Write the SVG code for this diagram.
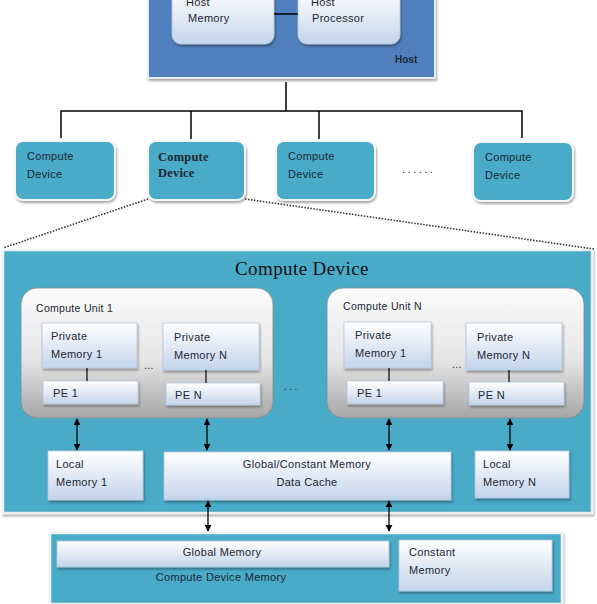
<svg xmlns="http://www.w3.org/2000/svg" width="597" height="604" viewBox="0 0 597 604">
<defs>
  <linearGradient id="gBlueW" x1="0" y1="0" x2="0" y2="1">
    <stop offset="0" stop-color="#ffffff"/>
    <stop offset="1" stop-color="#c3d4ea"/>
  </linearGradient>
  <linearGradient id="gGray" x1="0" y1="0" x2="0" y2="1">
    <stop offset="0" stop-color="#fbfbfb"/>
    <stop offset="0.55" stop-color="#e6e6e6"/>
    <stop offset="1" stop-color="#a6a6a6"/>
  </linearGradient>
  <filter id="sh" x="-10%" y="-10%" width="125%" height="130%">
    <feDropShadow dx="1" dy="2" stdDeviation="1.2" flood-color="#000" flood-opacity="0.35"/>
  </filter>
  <marker id="ah" viewBox="0 0 10 10" refX="9" refY="5" markerWidth="7" markerHeight="7" orient="auto-start-reverse" markerUnits="userSpaceOnUse">
    <path d="M0,0 L10,5 L0,10 z" fill="#000"/>
  </marker>
</defs>
<style>
  text { font-family: "Liberation Sans", Arial, sans-serif; font-size: 11px; fill: #1c2733; letter-spacing: 0.3px; }
  .serif { font-family: "Liberation Serif", "Times New Roman", serif; }
  .teal { fill: #4aabc8; stroke: #f4f8fa; stroke-width: 2; }
  .mem { fill: url(#gBlueW); stroke: #b7c7dc; stroke-width: 0.8; }
  .unit { fill: url(#gGray); stroke: #7f8a90; stroke-width: 0.8; }
  .ln { stroke: #000; stroke-width: 1.5; fill: none; }
  .arr { stroke: #000; stroke-width: 1.3; fill: none; marker-start: url(#ah); marker-end: url(#ah); }
  .dot { stroke: #333; stroke-width: 1.6; stroke-dasharray: 1.5 1.5; fill: none; }
</style>

<g id="host">
  <rect x="148" y="-10" width="287" height="88" fill="#4f80bd" stroke="#e9edf2" stroke-width="2" filter="url(#sh)"/>
  <text x="395" y="63" style="font-size:10px;font-weight:bold;letter-spacing:0">Host</text>
</g>
<g id="host-memory">
  <rect x="172" y="-10" width="102" height="54" rx="9" class="mem" filter="url(#sh)"/>
  <text x="186" y="6">Host</text>
  <text x="188" y="22">Memory</text>
</g>
<g id="host-processor">
  <rect x="298" y="-10" width="102" height="54" rx="9" class="mem" filter="url(#sh)"/>
  <text x="311" y="6">Host</text>
  <text x="312" y="22">Processor</text>
</g>

<g id="device-1">
  <rect x="15" y="141" width="100" height="59" rx="8" class="teal" filter="url(#sh)"/>
  <text x="27" y="160">Compute</text>
  <text x="27" y="178">Device</text>
</g>
<g id="device-2">
  <rect x="148" y="141" width="97" height="59" rx="8" class="teal" filter="url(#sh)"/>
  <text x="158" y="161" class="serif" style="font-size:12.5px;font-weight:bold;letter-spacing:0.2px">Compute</text>
  <text x="158" y="177" class="serif" style="font-size:12.5px;font-weight:bold;letter-spacing:0.2px">Device</text>
</g>
<g id="device-3">
  <rect x="276" y="141" width="99" height="59" rx="8" class="teal" filter="url(#sh)"/>
  <text x="288" y="160">Compute</text>
  <text x="288" y="178">Device</text>
</g>
<g id="device-4">
  <rect x="473" y="142" width="100" height="59" rx="8" class="teal" filter="url(#sh)"/>
  <text x="485" y="161">Compute</text>
  <text x="485" y="179">Device</text>
</g>
<text x="402" y="173" style="letter-spacing:2.5px">......</text>

<g id="compute-device">
  <rect x="3" y="250" width="589" height="263" fill="#4aabc8" stroke="#eef2f4" stroke-width="2.5" filter="url(#sh)"/>
  <text x="235" y="275" class="serif" style="font-size:19px;letter-spacing:0.4px;fill:#111">Compute Device</text>
</g>

<g id="compute-unit-1">
  <rect x="21" y="288" width="252" height="130" rx="16" class="unit"/>
  <text x="36" y="312" style="font-size:10.5px">Compute  Unit  1</text>
</g>
<g id="cu1-private-memory-1">
  <rect x="42" y="323" width="95" height="45" class="mem" filter="url(#sh)"/>
  <text x="51" y="340">Private</text>
  <text x="51" y="358">Memory 1</text>
</g>
<g id="cu1-private-memory-n">
  <rect x="163" y="323" width="96" height="47" class="mem" filter="url(#sh)"/>
  <text x="174" y="341">Private</text>
  <text x="174" y="359">Memory N</text>
</g>
<g id="cu1-pe-1">
  <rect x="43" y="381" width="95" height="23" class="mem" filter="url(#sh)"/>
  <text x="53" y="397">PE 1</text>
</g>
<g id="cu1-pe-n">
  <rect x="166" y="383" width="94" height="22" class="mem" filter="url(#sh)"/>
  <text x="175" y="399">PE N</text>
</g>
<text x="144" y="369" style="font-size:10px;letter-spacing:0.5px">...</text>

<g id="compute-unit-n">
  <rect x="327" y="288" width="257" height="130" rx="16" class="unit"/>
  <text x="343" y="310" style="font-size:10.5px">Compute  Unit  N</text>
</g>
<g id="cun-private-memory-1">
  <rect x="344" y="322" width="87" height="46" class="mem" filter="url(#sh)"/>
  <text x="355" y="339">Private</text>
  <text x="355" y="357">Memory 1</text>
</g>
<g id="cun-private-memory-n">
  <rect x="466" y="323" width="96" height="47" class="mem" filter="url(#sh)"/>
  <text x="477" y="341">Private</text>
  <text x="477" y="359">Memory N</text>
</g>
<g id="cun-pe-1">
  <rect x="347" y="381" width="96" height="23" class="mem" filter="url(#sh)"/>
  <text x="357" y="397">PE 1</text>
</g>
<g id="cun-pe-n">
  <rect x="469" y="382" width="95" height="23" class="mem" filter="url(#sh)"/>
  <text x="478" y="399">PE N</text>
</g>
<text x="452" y="368" style="font-size:10px;letter-spacing:0.5px">...</text>
<text x="284" y="390" style="font-size:10px;letter-spacing:2.5px">...</text>

<g id="local-memory-1">
  <rect x="48" y="451" width="95" height="49" class="mem" filter="url(#sh)"/>
  <text x="56" y="468">Local</text>
  <text x="56" y="486">Memory 1</text>
</g>
<g id="global-constant-cache">
  <rect x="164" y="452" width="287" height="48" class="mem" filter="url(#sh)"/>
  <text x="307" y="468" text-anchor="middle">Global/Constant  Memory</text>
  <text x="307" y="486" text-anchor="middle">Data Cache</text>
</g>
<g id="local-memory-n">
  <rect x="475" y="451" width="94" height="47" class="mem" filter="url(#sh)"/>
  <text x="483" y="468">Local</text>
  <text x="483" y="486">Memory N</text>
</g>

<g id="compute-device-memory">
  <rect x="50" y="533" width="512" height="71" fill="#4aabc8" stroke="#eef2f4" stroke-width="2.5" filter="url(#sh)"/>
  <text x="221" y="581" text-anchor="middle">Compute  Device  Memory</text>
</g>
<g id="global-memory">
  <rect x="57" y="541" width="332" height="26" class="mem" filter="url(#sh)"/>
  <text x="222" y="556" text-anchor="middle">Global Memory</text>
</g>
<g id="constant-memory">
  <rect x="399" y="540" width="153" height="51" class="mem" filter="url(#sh)"/>
  <text x="409" y="556">Constant</text>
  <text x="409" y="574">Memory</text>
</g>

<g id="connectors">
  <line class="ln" x1="274" y1="14" x2="298" y2="14"/>
  <line class="ln" x1="286" y1="82" x2="286" y2="111"/>
  <polyline class="ln" points="61,138 61,111 522,111 522,138"/>
  <line class="ln" x1="191" y1="111" x2="191" y2="139"/>
  <line class="ln" x1="319" y1="111" x2="319" y2="139"/>
  <line class="dot" x1="148" y1="199" x2="3" y2="248"/>
  <line class="dot" x1="245" y1="199" x2="594" y2="249"/>
  <line class="ln" style="stroke-width:1.2" x1="87" y1="368" x2="87" y2="381"/>
  <line class="ln" style="stroke-width:1.2" x1="206" y1="370" x2="206" y2="383"/>
  <line class="ln" style="stroke-width:1.2" x1="389" y1="368" x2="389" y2="381"/>
  <line class="ln" style="stroke-width:1.2" x1="509" y1="370" x2="509" y2="382"/>
  <line class="arr" x1="77" y1="419" x2="77" y2="450"/>
  <line class="arr" x1="207" y1="419" x2="207" y2="450"/>
  <line class="arr" x1="389" y1="419" x2="389" y2="450"/>
  <line class="arr" x1="510" y1="419" x2="510" y2="450"/>
  <line class="arr" x1="208" y1="501" x2="208" y2="531"/>
  <line class="arr" x1="389" y1="501" x2="389" y2="531"/>
</g>
</svg>
